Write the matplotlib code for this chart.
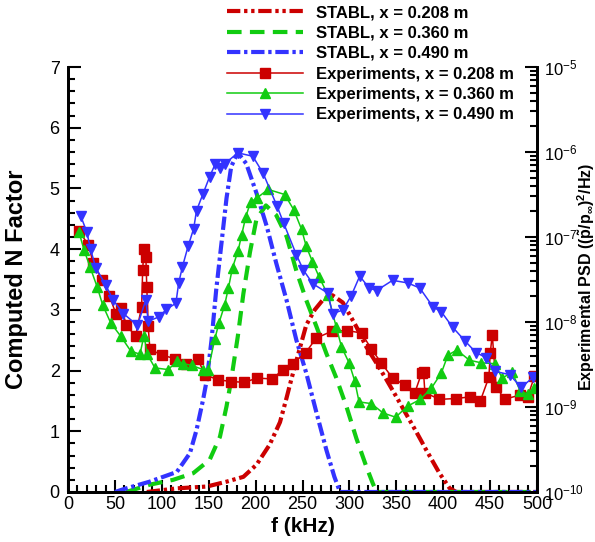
import matplotlib
matplotlib.use("Agg")
import matplotlib.pyplot as plt
import numpy as np
from matplotlib.ticker import MultipleLocator, LogLocator, NullFormatter

plt.rcParams['font.family'] = ['Liberation Sans', 'DejaVu Sans']
plt.rcParams['mathtext.fontset'] = 'custom'
plt.rcParams['mathtext.rm'] = 'Liberation Sans'
plt.rcParams['mathtext.bf'] = 'Liberation Sans:bold'
plt.rcParams['mathtext.it'] = 'Liberation Sans:italic'

# STABL computed N factors (left axis)
stabl_208_f = [84, 116, 148, 169, 187, 201, 215, 226, 233, 238, 247, 254, 263, 272, 282,
               293, 307.5, 318, 329, 339.5, 350, 361, 371, 382, 396, 407, 414, 500]
stabl_208_n = [0, 0.06, 0.09, 0.17, 0.25, 0.45, 0.78, 1.15, 1.55, 1.85, 2.36, 2.75, 3.0, 3.17, 3.24,
               3.12, 2.72, 2.39, 2.12, 1.85, 1.57, 1.27, 1.0, 0.69, 0.31, 0.06, 0, 0]

stabl_360_f = [62, 87, 112, 133.5, 151, 162, 169, 174, 181, 187, 194, 201, 211, 222, 233,
               243.5, 254, 265, 275.5, 286, 297, 307.5, 318, 325, 329, 500]
stabl_360_n = [0, 0.12, 0.2, 0.31, 0.53, 0.91, 1.41, 1.85, 2.56, 3.27, 3.95, 4.5, 4.72, 4.56, 4.21,
               3.64, 3.16, 2.72, 2.28, 1.88, 1.40, 0.88, 0.42, 0.14, 0, 0]

stabl_490_f = [50, 60, 87, 116, 130, 137, 144, 148, 153, 158, 164, 169, 174, 181, 190, 201,
               212, 222, 233, 243.5, 254, 265, 275.5, 284, 290, 500]
stabl_490_n = [0, 0.05, 0.17, 0.33, 0.64, 1.02, 1.52, 1.85, 2.50, 3.33, 4.15, 4.84, 5.36, 5.59, 5.41, 4.92,
               4.37, 3.77, 3.16, 2.50, 1.96, 1.30, 0.69, 0.25, 0, 0]

# Experimental PSD, stored as log10((p~/p_inf)^2/Hz) (right axis)
exp_208_f = [11.7, 21.6, 27, 36, 44, 51, 57, 62, 72, 78.5, 79.6, 81, 83, 84, 85.5, 87.3, 100, 114,
             126, 138.5, 146, 160, 174, 188, 201.5, 218, 229, 239.5, 253.5, 264.5, 281, 297.5, 313,
             323.5, 334, 346, 359, 369.5, 377, 379, 380.5, 396, 414, 429, 439.5, 448.7, 450.2, 452.3,
             456.5, 465.4, 481.4, 490, 497.3]
exp_208_log = [-6.93, -7.09, -7.31, -7.50, -7.69, -7.90, -7.83, -8.03, -8.17, -7.82, -7.39, -7.14, -7.23,
               -7.59, -8.05, -8.32, -8.39, -8.43, -8.49, -8.44, -8.62, -8.68, -8.70, -8.71, -8.66, -8.67,
               -8.56, -8.49, -8.36, -8.19, -8.11, -8.10, -8.13, -8.32, -8.48, -8.66, -8.74, -8.84, -8.60,
               -8.59, -8.83, -8.91, -8.90, -8.88, -8.93, -8.65, -8.36, -8.15, -8.76, -8.91, -8.86, -8.88,
               -8.64]

exp_360_f = [11.7, 17, 23.4, 31.2, 37, 45.5, 56.4, 66.8, 76.7, 81, 84.5, 92.7, 106.8, 116.4, 122.8,
             131.7, 144, 149.5, 156.5, 161, 167, 171, 175.4, 181.4, 185, 189.6, 194.6, 201.6, 213.3,
             231, 240.7, 249, 254, 260.6, 267.7, 277, 286, 291.5, 299.6, 305.6, 310.3, 323.4, 335.8,
             349.3, 362, 375.6, 387.3, 398, 405, 414.6, 428, 440.5, 454.7, 463, 473.6, 482, 490, 497.3]
exp_360_log = [-6.94, -7.15, -7.35, -7.59, -7.80, -8.01, -8.17, -8.34, -8.38, -8.16, -8.38, -8.54, -8.56,
               -8.46, -8.49, -8.51, -8.56, -8.56, -8.20, -8.01, -7.80, -7.60, -7.36, -7.16, -6.98, -6.76,
               -6.59, -6.54, -6.44, -6.50, -6.68, -6.91, -7.11, -7.29, -7.47, -7.68, -8.06, -8.29, -8.48,
               -8.69, -8.94, -8.96, -9.07, -9.12, -8.99, -8.91, -8.78, -8.60, -8.39, -8.33, -8.45, -8.48,
               -8.49, -8.66, -8.59, -8.81, -8.85, -8.78]

exp_490_f = [13.5, 20, 24, 29.5, 40, 48, 59, 74, 83, 85.5, 97, 105, 115, 118, 122, 128, 134, 137, 144,
             151, 157, 162, 167, 181, 197, 208, 223, 230, 243.5, 251, 261, 277, 282, 293, 302, 311, 321,
             329, 346, 362, 375, 389, 398, 410, 423, 435, 446, 455, 471, 483, 496]
exp_490_log = [-6.75, -6.94, -7.14, -7.36, -7.56, -7.74, -7.90, -8.04, -7.74, -7.99, -7.94, -7.85, -7.78,
               -7.54, -7.35, -7.11, -6.90, -6.69, -6.49, -6.29, -6.14, -6.19, -6.14, -6.01, -6.05, -6.25,
               -6.64, -6.84, -7.21, -7.39, -7.55, -7.66, -7.90, -7.86, -7.69, -7.46, -7.60, -7.63, -7.51,
               -7.54, -7.60, -7.82, -7.88, -8.06, -8.22, -8.36, -8.42, -8.58, -8.62, -8.77, -8.65]

RED = '#CC0000'
GREEN = '#11CC11'
BLUE = '#3333FF'

fig = plt.figure(figsize=(5.95, 5.42), dpi=100)
ax = fig.add_axes([68 / 595, 50 / 542, 469 / 595, 425 / 542])
ax2 = ax.twinx()

# computed N factors
l1, = ax.plot(stabl_208_f, stabl_208_n, color=RED, lw=3,
              linestyle=(0, (3.2, 0.9, 0.8, 0.9, 0.8, 0.9)), label='STABL, x = 0.208 m')
l2, = ax.plot(stabl_360_f, stabl_360_n, color=GREEN, lw=3,
              linestyle=(0, (3.5, 2.0)), label='STABL, x = 0.360 m')
l3, = ax.plot(stabl_490_f, stabl_490_n, color=BLUE, lw=3,
              linestyle=(0, (3.2, 0.9, 0.8, 0.9)), label='STABL, x = 0.490 m')

# experimental spectra
e1, = ax2.plot(exp_208_f, 10 ** np.array(exp_208_log), color=RED, lw=1.1, marker='s',
               markersize=6.5, label='Experiments, x = 0.208 m')
e2, = ax2.plot(exp_360_f, 10 ** np.array(exp_360_log), color=GREEN, lw=1.1, marker='^',
               markersize=7, label='Experiments, x = 0.360 m')
e3, = ax2.plot(exp_490_f, 10 ** np.array(exp_490_log), color=BLUE, lw=1.1, marker='v',
               markersize=7, label='Experiments, x = 0.490 m')

ax.set_xlim(0, 500)
ax.set_ylim(0, 7)
ax.xaxis.set_major_locator(MultipleLocator(50))
ax.xaxis.set_minor_locator(MultipleLocator(10))
ax.yaxis.set_major_locator(MultipleLocator(1))
ax.yaxis.set_minor_locator(MultipleLocator(0.2))

ax2.set_yscale('log')
ax2.set_ylim(1e-10, 1e-5)
ax2.yaxis.set_major_locator(LogLocator(base=10, numticks=10))
ax2.yaxis.set_minor_locator(LogLocator(base=10, subs=np.arange(2, 10), numticks=10))
ax2.yaxis.set_minor_formatter(NullFormatter())

for a in (ax, ax2):
    a.spines['top'].set_visible(False)
    for s in a.spines.values():
        s.set_linewidth(2)

ax.tick_params(which='both', direction='in', labelsize=13, width=1.5)
ax.tick_params(axis='y', which='major', length=9, pad=6)
ax.tick_params(axis='y', which='minor', length=5)
ax.tick_params(axis='x', which='major', length=9, pad=3)
ax.tick_params(axis='x', which='minor', length=5)
ax.tick_params(right=False, top=False, which='both')
ax2.tick_params(which='both', direction='in', labelsize=12, width=1.5)
ax2.tick_params(which='major', length=9, pad=5)
ax2.tick_params(which='minor', length=5)

ax.set_xlabel('f (kHz)', fontsize=15, fontweight='bold')
ax.xaxis.set_label_coords(0.5, -0.059)
ax.set_ylabel('Computed N Factor', fontsize=17, fontweight='bold')
ax.yaxis.set_label_coords(-0.085, 0.5)
ax2.set_ylabel(r'Experimental PSD (($\mathbf{\tilde{p}}$/p$_{\mathbf{\infty}}$)$^{\mathbf{2}}$/Hz)',
               fontsize=11.5, fontweight='bold', rotation=90, ha='center', va='center')
ax2.yaxis.set_label_coords((586.5 - 68) / 469, 0.505)

handles = [l1, l2, l3, e1, e2, e3]
fig.legend(handles, [h.get_label() for h in handles], loc='upper right',
           bbox_to_anchor=(514 / 595, 1 - 5 / 542), frameon=False,
           prop={'weight': 'bold', 'size': 12}, handlelength=4.55, handletextpad=0.8,
           labelspacing=0.33, borderpad=0, borderaxespad=0)

fig.savefig('out.png', dpi=100)
